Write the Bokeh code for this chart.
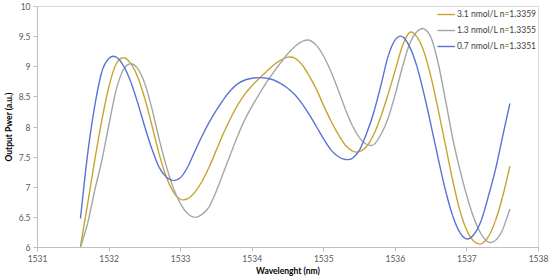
from bokeh.plotting import figure
from bokeh.models import FixedTicker, CustomJSTickFormatter, Legend, LegendItem, ColumnDataSource
from bokeh.embed import file_html
from bokeh.resources import INLINE

wavelength = [round(1531.6 + 0.1 * i, 1) for i in range(61)]

p31 = [6.02, 6.72, 7.45, 8.12, 8.68, 9.05, 9.15, 9.06, 8.83, 8.47,
       8.02, 7.55, 7.17, 6.92, 6.80, 6.81, 6.92, 7.10, 7.34, 7.62,
       7.90, 8.15, 8.37, 8.55, 8.69, 8.81, 8.92, 9.03, 9.11, 9.16,
       9.14, 9.03, 8.84, 8.62, 8.35, 8.10, 7.88, 7.70, 7.60, 7.59,
       7.68, 7.88, 8.18, 8.55, 8.95, 9.35, 9.57, 9.50, 9.25, 8.82,
       8.28, 7.70, 7.12, 6.62, 6.28, 6.10, 6.06, 6.18, 6.45, 6.85,
       7.35]

p13 = [6.00, 6.40, 6.95, 7.45, 8.05, 8.62, 8.95, 9.05, 8.97, 8.72,
       8.30, 7.80, 7.35, 6.98, 6.72, 6.56, 6.50, 6.55, 6.68, 6.94,
       7.25, 7.56, 7.86, 8.13, 8.35, 8.55, 8.74, 8.91, 9.07, 9.22,
       9.34, 9.42, 9.44, 9.35, 9.17, 8.92, 8.62, 8.30, 8.02, 7.82,
       7.71, 7.71, 7.88, 8.15, 8.55, 9.00, 9.38, 9.58, 9.63, 9.48,
       9.05, 8.45, 7.82, 7.30, 6.85, 6.48, 6.22, 6.09, 6.12, 6.30,
       6.64]

p07 = [6.48, 7.55, 8.35, 8.92, 9.14, 9.16, 9.02, 8.76, 8.40, 8.00,
       7.63, 7.33, 7.17, 7.11, 7.16, 7.34, 7.60, 7.85, 8.08, 8.28,
       8.46, 8.61, 8.72, 8.78, 8.81, 8.82, 8.81, 8.78, 8.72, 8.64,
       8.53, 8.38, 8.20, 8.00, 7.80, 7.62, 7.51, 7.46, 7.48, 7.62,
       7.90, 8.25, 8.70, 9.18, 9.45, 9.50, 9.33, 9.01, 8.55, 8.02,
       7.47, 6.95, 6.53, 6.25, 6.14, 6.22, 6.45, 6.85, 7.30, 7.85,
       8.39]

series_labels = ["3.1 nmol/L n=1.3359", "1.3 nmol/L n=1.3355", "0.7 nmol/L n=1.3351"]
series_colors = ["#C8A42E", "#A5A5A5", "#5C72D2"]

x_ticks = [1531, 1532, 1533, 1534, 1535, 1536, 1537, 1538]
y_ticks = [6, 6.5, 7, 7.5, 8, 8.5, 9, 9.5, 10]

FONT = "Lato"


def smooth_segments(xs, ys):
    """Excel-like smoothed line: Catmull-Rom segments as cubic Bezier control points."""
    n = len(xs)
    d = dict(x0=[], y0=[], x1=[], y1=[], cx0=[], cy0=[], cx1=[], cy1=[])
    for i in range(n - 1):
        xa, ya = xs[max(i - 1, 0)], ys[max(i - 1, 0)]
        xb, yb = xs[i], ys[i]
        xc, yc = xs[i + 1], ys[i + 1]
        xd, yd = xs[min(i + 2, n - 1)], ys[min(i + 2, n - 1)]
        d["x0"].append(xb); d["y0"].append(yb)
        d["x1"].append(xc); d["y1"].append(yc)
        d["cx0"].append(xb + (xc - xa) / 6.0); d["cy0"].append(yb + (yc - ya) / 6.0)
        d["cx1"].append(xc - (xd - xb) / 6.0); d["cy1"].append(yc - (yd - yb) / 6.0)
    return ColumnDataSource(d)


p = figure(width=550, height=278, x_range=(1531, 1538), y_range=(6, 10),
           output_backend="svg", toolbar_location=None,
           min_border_left=2, min_border_right=12, min_border_top=6, min_border_bottom=2)

items = []
for ys, lab, colr in zip([p31, p13, p07], series_labels, series_colors):
    src = smooth_segments(wavelength, ys)
    r = p.bezier(x0="x0", y0="y0", x1="x1", y1="y1", cx0="cx0", cy0="cy0",
                 cx1="cx1", cy1="cy1", source=src, line_color=colr, line_width=1.4)
    items.append(LegendItem(label=lab, renderers=[r]))

legend = Legend(items=items, location="top_right", border_line_color=None,
                background_fill_alpha=0.0, label_text_font=FONT, label_text_font_size="8.5px",
                label_text_color="#404040", glyph_width=18, glyph_height=12,
                spacing=4, padding=3, margin=2, label_standoff=2, label_height=12)
p.add_layout(legend)

p.xgrid.visible = False
p.ygrid.visible = False
p.outline_line_color = "#D9D9D9"
p.background_fill_color = "white"
p.border_fill_color = "white"

p.xaxis.ticker = FixedTicker(ticks=x_ticks)
p.yaxis.ticker = FixedTicker(ticks=y_ticks)
p.yaxis.formatter = CustomJSTickFormatter(code="return tick.toString();")

for ax in (p.xaxis, p.yaxis):
    ax.axis_line_color = "#BFBFBF"
    ax.major_tick_line_color = "#BFBFBF"
    ax.minor_tick_line_color = None
    ax.major_tick_in = 0
    ax.major_tick_out = 4
    ax.major_label_text_font = FONT
    ax.major_label_text_font_size = "8.5px"
    ax.major_label_text_color = "#595959"
    ax.axis_label_text_font = FONT
    ax.axis_label_text_font_size = "8.5px"
    ax.axis_label_text_font_style = "bold"
    ax.axis_label_text_color = "#000000"

p.xaxis.axis_label = "Wavelenght (nm)"
p.yaxis.axis_label = "Output Pwer (a.u.)"
p.xaxis.major_label_standoff = 3
p.xaxis.axis_label_standoff = 1
p.yaxis.major_label_standoff = 3
p.yaxis.axis_label_standoff = 2

open("out.html", "w").write(file_html(p, INLINE))
